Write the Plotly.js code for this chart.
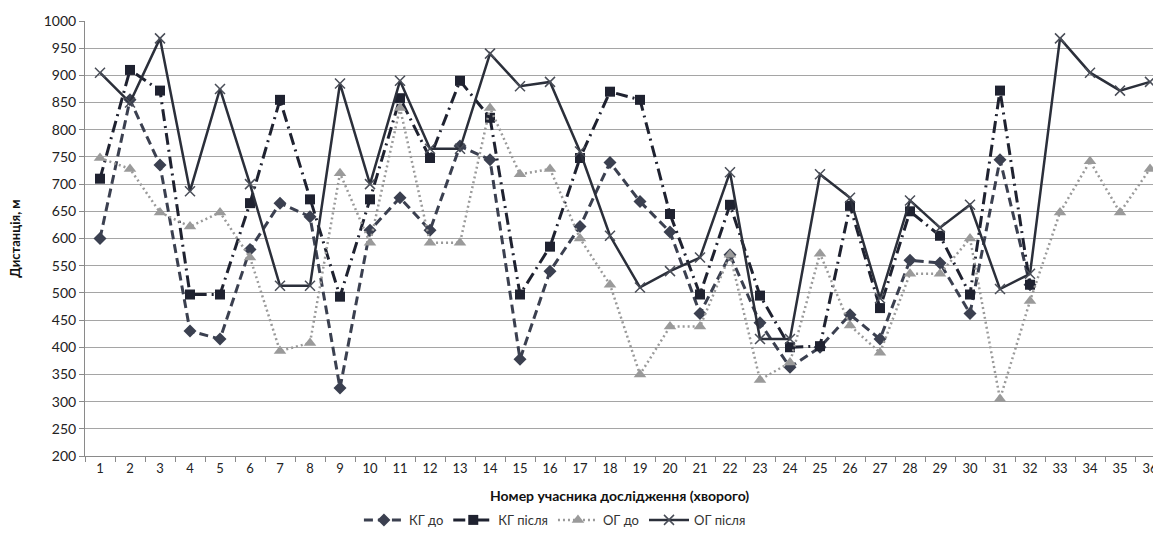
<!DOCTYPE html>
<html>
<head>
<meta charset="utf-8">
<script src="https://cdn.plot.ly/plotly-3.0.1.min.js"></script>
<style>html,body{margin:0;padding:0;background:#fff;}#chart{width:1153px;height:550px;}</style>
</head>
<body>
<div id="chart"></div>
<script>
var categories = ['1','2','3','4','5','6','7','8','9','10','11','12','13','14','15','16','17','18','19','20','21','22','23','24','25','26','27','28','29','30','31','32','33','34','35','36'];

var kgDo = [600,855,735,430,415,580,665,640,325,615,675,615,770,745,378,540,622,740,668,612,462,570,445,363,400,460,415,560,555,462,745,515];
var kgPislia = [710,910,872,497,497,665,855,672,493,672,858,748,890,822,497,585,748,870,855,645,497,662,495,400,402,660,472,650,605,497,872,515];
var ogDo = [748,728,648,622,648,565,393,408,720,592,840,592,592,840,718,728,600,515,350,438,438,570,340,372,572,440,390,535,535,600,305,485,648,742,648,728];
var ogPislia = [905,850,968,687,875,700,513,513,885,700,890,765,765,940,880,888,760,605,510,540,565,722,415,415,718,675,490,670,620,662,507,535,968,905,872,888];

var seriesNames = ['КГ до','КГ після','ОГ до','ОГ після'];
var yTitle = 'Дистанція, м';
var xTitle = 'Номер учасника дослідження (хворого)';

var font = 'Lato, "Open Sans", sans-serif';

var traces = [
  {x: categories.slice(0, kgDo.length), y: kgDo, name: seriesNames[0], type:'scatter', mode:'lines+markers',
   line:{color:'#3b4050', width:3, dash:'9px,5px'},
   marker:{symbol:'diamond', size:10, color:'#3b4050'}},
  {x: categories.slice(0, kgPislia.length), y: kgPislia, name: seriesNames[1], type:'scatter', mode:'lines+markers',
   line:{color:'#1f2230', width:3, dash:'12px,5px,2px,5px'},
   marker:{symbol:'square', size:10, color:'#1f2230'}},
  {x: categories.slice(0, ogDo.length), y: ogDo, name: seriesNames[2], type:'scatter', mode:'lines+markers',
   line:{color:'#9a9a9a', width:2.5, dash:'2px,3px'},
   marker:{symbol:'triangle-up', size:11, color:'#9a9a9a'}},
  {x: categories.slice(0, ogPislia.length), y: ogPislia, name: seriesNames[3], type:'scatter', mode:'lines+markers',
   line:{color:'#2b2f3a', width:2.5},
   marker:{symbol:'x-thin', size:10, line:{width:1.5, color:'#4a4e58'}, color:'#4a4e58'}}
];

var layout = {
  width:1153, height:550,
  paper_bgcolor:'#fff', plot_bgcolor:'#fff',
  margin:{l:85, r:0, t:21, b:94},
  font:{family:font, size:13, color:'#222'},
  showlegend:true,
  legend:{orientation:'h', x:0.44, xanchor:'center', y:-0.147, yanchor:'middle',
          font:{family:font, size:13, color:'#333'}, itemwidth:40, tracegroupgap:0},
  xaxis:{type:'category', categoryorder:'array', categoryarray:categories,
         range:[-0.5, 35.1], showgrid:false, showline:true, linecolor:'#8a8a8a', linewidth:1,
         ticks:'outside', tickson:'boundaries', ticklen:5, tickcolor:'#8a8a8a',
         tickfont:{family:font, size:13, color:'#222'}, zeroline:false, fixedrange:true},
  yaxis:{range:[200,1000], dtick:50, tick0:200, showgrid:true, gridcolor:'#a5a5a5', gridwidth:1,
         showline:true, linecolor:'#8a8a8a', linewidth:1, ticks:'outside', ticklen:5, tickcolor:'#8a8a8a',
         tickfont:{family:font, size:14, color:'#222'}, zeroline:false,
         title:{text:yTitle, font:{family:font, size:13, color:'#111', weight:'bold'}, standoff:20}},
  annotations:[
    {text:'<b>'+xTitle+'</b>', xref:'paper', yref:'paper', x:0.5, y:-0.09, xanchor:'center', yanchor:'middle',
     showarrow:false, font:{family:font, size:14, color:'#111'}}
  ]
};

Plotly.newPlot('chart', traces, layout, {displayModeBar:false, staticPlot:true});
</script>
</body>
</html>
